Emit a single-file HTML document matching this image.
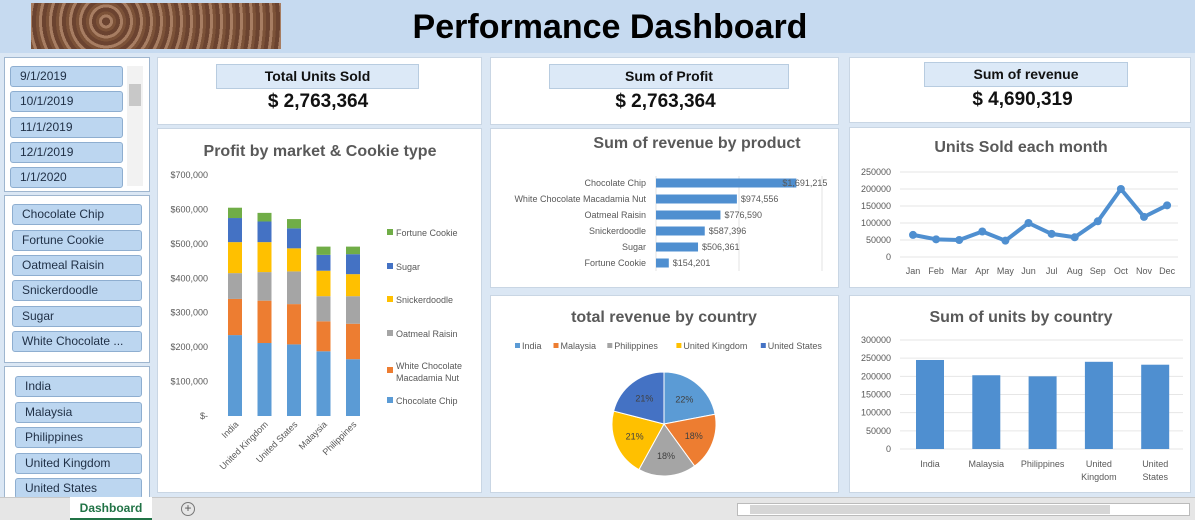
<!DOCTYPE html>
<html><head><meta charset="utf-8">
<style>
*{box-sizing:border-box;margin:0;padding:0}
body{width:1195px;height:520px;overflow:hidden;background:#dbe7f4;font-family:"Liberation Sans",Calibri,sans-serif;position:relative}
.abs{position:absolute}
.card{position:absolute;background:#fff;border:1px solid #c9d6e4}
.kt{position:absolute;background:#dce9f7;border:1px solid #b8cce0;font-weight:bold;font-size:14px;text-align:center;line-height:23px;color:#111}
.kv{position:absolute;font-weight:bold;font-size:19px;text-align:center;color:#111}
.sl{position:absolute;background:#fff;border:1px solid #9fb6cf}
.it{position:absolute;background:#bcd6f0;border:1px solid #8eaed0;border-radius:3px;font-size:12px;color:#1f2f45;padding-left:9px;line-height:19px;height:21px}
svg text{font-family:"Liberation Sans",sans-serif}
</style></head><body>
<div class="abs" style="left:0;top:0;width:1195px;height:53px;background:#c6daf0"></div>
<div class="abs" style="left:31px;top:3px;width:250px;height:46px;background:repeating-radial-gradient(circle at 30% 40%,#6b4330 0 4px,#a77d62 4px 7px,#7c5238 7px 10px);"></div>
<div class="abs" style="left:330px;top:8px;width:560px;text-align:center;font-size:34px;font-weight:bold;color:#000">Performance Dashboard</div>

<div class="sl" style="left:4px;top:57px;width:146px;height:135px">
<div class="it" style="left:5px;top:8px;width:113px">9/1/2019</div>
<div class="it" style="left:5px;top:33px;width:113px">10/1/2019</div>
<div class="it" style="left:5px;top:59px;width:113px">11/1/2019</div>
<div class="it" style="left:5px;top:84px;width:113px">12/1/2019</div>
<div class="it" style="left:5px;top:109px;width:113px">1/1/2020</div>
<div class="abs" style="left:122px;top:8px;width:16px;height:120px;background:#f2f2f2"><div style="position:absolute;left:2px;top:18px;width:12px;height:22px;background:#c8c8c8"></div></div>
</div>
<div class="sl" style="left:4px;top:195px;width:146px;height:168px">
<div class="it" style="left:7px;top:8px;width:130px">Chocolate Chip</div>
<div class="it" style="left:7px;top:34px;width:130px">Fortune Cookie</div>
<div class="it" style="left:7px;top:59px;width:130px">Oatmeal Raisin</div>
<div class="it" style="left:7px;top:84px;width:130px">Snickerdoodle</div>
<div class="it" style="left:7px;top:110px;width:130px">Sugar</div>
<div class="it" style="left:7px;top:135px;width:130px">White Chocolate ...</div>
</div>
<div class="sl" style="left:4px;top:366px;width:146px;height:132px">
<div class="it" style="left:10px;top:9px;width:127px">India</div>
<div class="it" style="left:10px;top:35px;width:127px">Malaysia</div>
<div class="it" style="left:10px;top:60px;width:127px">Philippines</div>
<div class="it" style="left:10px;top:86px;width:127px">United Kingdom</div>
<div class="it" style="left:10px;top:111px;width:127px">United States</div>
</div>

<div class="card" style="left:157px;top:57px;width:325px;height:68px">
<div class="kt" style="left:58px;top:6px;width:203px">Total Units Sold</div>
<div class="kv" style="left:0;top:33px;width:320px">$ 2,763,364</div></div>
<div class="card" style="left:490px;top:57px;width:349px;height:68px">
<div class="kt" style="left:58px;top:6px;width:240px">Sum of Profit</div>
<div class="kv" style="left:0;top:33px;width:349px">$ 2,763,364</div></div>
<div class="card" style="left:849px;top:57px;width:342px;height:66px">
<div class="kt" style="left:74px;top:4px;width:204px">Sum of revenue</div>
<div class="kv" style="left:0;top:31px;width:345px">$ 4,690,319</div></div>

<div class="card" style="left:157px;top:128px;width:325px;height:365px"></div>
<div class="card" style="left:490px;top:128px;width:349px;height:160px"></div>
<div class="card" style="left:490px;top:295px;width:349px;height:198px"></div>
<div class="card" style="left:849px;top:127px;width:342px;height:161px"></div>
<div class="card" style="left:849px;top:295px;width:342px;height:198px"></div>

<svg id="s" width="1195" height="520" style="position:absolute;left:0;top:0"></svg>

<div class="abs" style="left:0;top:497px;width:1195px;height:23px;background:#e6e6e6;border-top:1px solid #c8c8c8"></div>
<div class="abs" style="left:70px;top:497px;width:82px;height:23px;background:#fff;color:#217346;font-weight:bold;font-size:12px;text-align:center;line-height:22px;border-bottom:2px solid #217346">Dashboard</div>
<div class="abs" style="left:181px;top:502px;width:14px;height:14px;border:1px solid #777;border-radius:50%;font-size:12px;line-height:11px;text-align:center;color:#555">+</div>
<div class="abs" style="left:737px;top:503px;width:453px;height:13px;background:#fff;border:1px solid #bbb"><div style="position:absolute;left:12px;top:1px;width:360px;height:9px;background:#d6d6d6"></div></div>

<script>
const NS='http://www.w3.org/2000/svg';const S=document.getElementById('s');
function mk(t,a,txt){const e=document.createElementNS(NS,t);for(const k in a)e.setAttribute(k,a[k]);if(txt!==undefined)e.textContent=txt;S.appendChild(e);return e;}
function T(x,y,s,o){return mk('text',Object.assign({x:x,y:y,'font-size':9,fill:'#595959'},o||{}),s);}

// ---- Chart 1: Profit by market & cookie type (stacked) ----
const profitMarkets=['India','United Kingdom','United States','Malaysia','Philippines'];
const profitSeries=['Chocolate Chip','White Chocolate Macadamia Nut','Oatmeal Raisin','Snickerdoodle','Sugar','Fortune Cookie'];
const profitCC=[235000,212000,208000,188000,165000];
const profitWC=[105000,123000,117000,87000,103000];
const profitOR=[75000,83000,95000,73000,80000];
const profitSN=[90000,87000,67000,74000,64000];
const profitSU=[70000,60000,58000,46000,58000];
const profitFC=[30000,25000,27000,24000,22000];
const profitTicks=[0,100000,200000,300000,400000,500000,600000,700000];
const c1={y0:416,y1:175,max:700000,x0:235,step:29.5,bw:14};
const c1y=v=>c1.y0-(v/c1.max)*(c1.y0-c1.y1);
const colors=['#5b9bd5','#ed7d31','#a5a5a5','#ffc000','#4472c4','#70ad47'];
let e=T(320,156,'Profit by market & Cookie type',{'font-size':16,'font-weight':'bold','text-anchor':'middle'});

profitTicks.forEach(v=>{const t=T(208,c1y(v)+3,v===0?'$-':'$'+v.toLocaleString('en-US'),{'text-anchor':'end'});
});
const stacks=[profitCC,profitWC,profitOR,profitSN,profitSU,profitFC];
profitMarkets.forEach((m,i)=>{let acc=0;const cx=c1.x0+i*c1.step;
 stacks.forEach((arr,k)=>{const y1=c1y(acc),y2=c1y(acc+arr[i]);acc+=arr[i];
  const r=mk('rect',{x:cx-c1.bw/2,y:y2,width:c1.bw,height:y1-y2,fill:colors[k]});
  });
 const l=T(cx+4,425,m,{'text-anchor':'end',transform:`rotate(-45 ${cx+4} 425)`});
 });
const legY=[404,374,337,303,270,236];
profitSeries.forEach((s,k)=>{const y=legY[k];
 const r=mk('rect',{x:387,y:y-7,width:6,height:6,fill:colors[k]});
 if(k===1){T(396,y-5,'White Chocolate');T(396,y+7,'Macadamia Nut');}
 else{const t=T(396,y,s);}});

// ---- Chart 2: revenue by product ----
const prodNames=['Chocolate Chip','White Chocolate Macadamia Nut','Oatmeal Raisin','Snickerdoodle','Sugar','Fortune Cookie'];
const prodRevenue=[1691215,974556,776590,587396,506361,154201];
const c2={x0:656,ppu:83/1000000,y0:183,step:16,bh:9};
e=T(697,148,'Sum of revenue by product',{'font-size':16,'font-weight':'bold','text-anchor':'middle'});

[0,1,2].forEach(g=>{const l=mk('line',{x1:c2.x0+g*83,x2:c2.x0+g*83,y1:176,y2:271,stroke:'#e3e3e3'});});
prodNames.forEach((n,i)=>{const y=c2.y0+i*c2.step,w=prodRevenue[i]*c2.ppu;
 const r=mk('rect',{x:c2.x0,y:y-c2.bh/2,width:w,height:c2.bh,fill:'#4f8fd0'});
 T(646,y+3,n,{'text-anchor':'end'});
 const v=T(c2.x0+w+(i===0?-14:4),y+3,'$'+prodRevenue[i].toLocaleString('en-US'));});

// ---- Chart 3: pie ----
const pieCountries=['India','Malaysia','Philippines','United Kingdom','United States'];
const piePct=[22,18,18,21,21];
e=T(664,322,'total revenue by country',{'font-size':16,'font-weight':'bold','text-anchor':'middle'});

const pieCol=['#5b9bd5','#ed7d31','#a5a5a5','#ffc000','#4472c4'];
let lx=515;pieCountries.forEach((c,i)=>{const r=mk('rect',{x:lx,y:343,width:5,height:5,fill:pieCol[i]});
 const t=T(lx+7,349,c);lx+=c.length*5.1+13;});
const pc={x:664,y:424,r:52};const tot=piePct.reduce((a,b)=>a+b,0);let ang=-Math.PI/2;
piePct.forEach((p,i)=>{const a2=ang+p/tot*2*Math.PI;
 const x1=pc.x+pc.r*Math.cos(ang),y1=pc.y+pc.r*Math.sin(ang),x2=pc.x+pc.r*Math.cos(a2),y2=pc.y+pc.r*Math.sin(a2);
 const s=mk('path',{d:`M${pc.x},${pc.y}L${x1},${y1}A${pc.r},${pc.r} 0 ${a2-ang>Math.PI?1:0} 1 ${x2},${y2}Z`,fill:pieCol[i],stroke:'#fff','stroke-width':1});
 
 const m=(ang+a2)/2;const t=T(pc.x+32*Math.cos(m),pc.y+32*Math.sin(m)+3,p+'%',{'text-anchor':'middle',fill:'#404040'});
 ang=a2;});

// ---- Chart 4: units per month line ----
const months=['Jan','Feb','Mar','Apr','May','Jun','Jul','Aug','Sep','Oct','Nov','Dec'];
const monthUnits=[65000,52000,50000,75000,48000,100000,68000,58000,105000,200000,118000,152000];
const lineTicks=[0,50000,100000,150000,200000,250000];
const c4={x0:913,step:23.1,y0:257,y1:172,max:250000};
const c4y=v=>c4.y0-v/c4.max*(c4.y0-c4.y1);
e=T(1021,152,'Units Sold each month',{'font-size':16,'font-weight':'bold','text-anchor':'middle'});

lineTicks.forEach(v=>{const y=c4y(v);mk('line',{x1:900,x2:1178,y1:y,y2:y,stroke:'#e6e6e6'});
 const t=T(891,y+3,String(v),{'text-anchor':'end'});});
const pts=monthUnits.map((v,i)=>[c4.x0+i*c4.step,c4y(v)]);
const pl=mk('polyline',{points:pts.map(p=>p.join(',')).join(' '),fill:'none',stroke:'#4f8fd0','stroke-width':4,'stroke-linejoin':'round'});

pts.forEach((p,i)=>{const c=mk('circle',{cx:p[0],cy:p[1],r:4,fill:'#4f8fd0'});
 T(p[0],274,months[i],{'text-anchor':'middle'});});

// ---- Chart 5: units by country bars ----
const unitCountries=[['India'],['Malaysia'],['Philippines'],['United','Kingdom'],['United','States']];
const countryUnits=[245000,203000,200000,240000,232000];
const barTicks=[0,50000,100000,150000,200000,250000,300000];
const c5={x0:930,step:56.3,y0:449,y1:340,max:300000,bw:28};
const c5y=v=>c5.y0-v/c5.max*(c5.y0-c5.y1);
e=T(1021,322,'Sum of units by country',{'font-size':16,'font-weight':'bold','text-anchor':'middle'});

barTicks.forEach(v=>{const y=c5y(v);mk('line',{x1:900,x2:1183,y1:y,y2:y,stroke:'#e6e6e6'});
 const t=T(891,y+3,String(v),{'text-anchor':'end'});});
countryUnits.forEach((v,i)=>{const cx=c5.x0+i*c5.step;
 const r=mk('rect',{x:cx-c5.bw/2,y:c5y(v),width:c5.bw,height:c5.y0-c5y(v),fill:'#4f8fd0'});
 unitCountries[i].forEach((w,j)=>T(cx,467+j*13,w,{'text-anchor':'middle'}));});
</script>
</body></html>
